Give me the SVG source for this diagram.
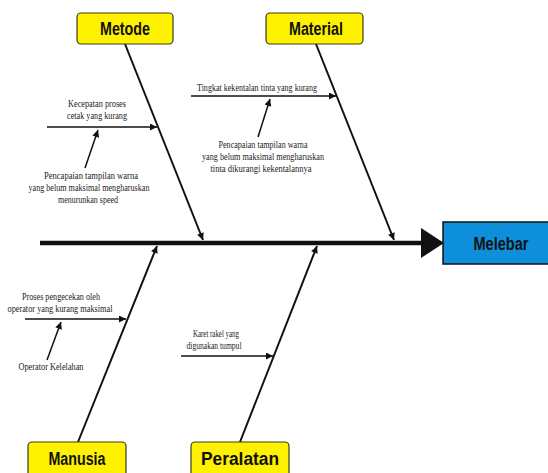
<svg xmlns="http://www.w3.org/2000/svg" width="548" height="473" viewBox="0 0 548 473">
<defs>
<style>
.cat{fill:#FFF200;stroke:#3a3a20;stroke-width:1.2}
.eff{fill:#0E8FDB;stroke:#111;stroke-width:1.5}
.lbl{font-family:"Liberation Sans",Arial,sans-serif;font-weight:bold;font-size:18px;fill:#111;text-anchor:middle}
.sm{font-family:"Liberation Serif","Times New Roman",serif;font-size:10.5px;fill:#222;text-anchor:middle}
.bone{stroke:#111;stroke-width:2;fill:none}
.sub{stroke:#111;stroke-width:1.5;fill:none}
</style>
<marker id="ah" viewBox="0 0 10 10" refX="10" refY="5" markerWidth="9" markerHeight="7" markerUnits="userSpaceOnUse" orient="auto">
<path d="M0,0 L10,5 L0,10 z" fill="#111"/>
</marker>
</defs>
<rect width="548" height="473" fill="#fff"/>
<g id="connectors">
<line x1="40" y1="243" x2="424" y2="243" stroke="#111" stroke-width="4.5"/>
<polygon points="421,228 444,243 421,258" fill="#111"/>
<line class="bone" x1="125" y1="44" x2="203" y2="240" marker-end="url(#ah)"/>
<line class="bone" x1="316" y1="44" x2="394" y2="240" marker-end="url(#ah)"/>
<line class="bone" x1="78" y1="442" x2="157" y2="246" marker-end="url(#ah)"/>
<line class="bone" x1="240" y1="442" x2="317" y2="246" marker-end="url(#ah)"/>
<line class="sub" x1="47" y1="127" x2="157" y2="127" marker-end="url(#ah)"/>
<line class="sub" x1="85" y1="168" x2="98" y2="130" marker-end="url(#ah)"/>
<line class="sub" x1="191" y1="96" x2="336" y2="96" marker-end="url(#ah)"/>
<line class="sub" x1="258" y1="137" x2="270" y2="99" marker-end="url(#ah)"/>
<line class="sub" x1="25" y1="319" x2="126" y2="319" marker-end="url(#ah)"/>
<line class="sub" x1="47" y1="360" x2="61" y2="322" marker-end="url(#ah)"/>
<line class="sub" x1="181" y1="356" x2="273" y2="356" marker-end="url(#ah)"/>
</g>
<g id="metode">
<rect class="cat" x="77" y="13" width="96" height="31" rx="4"/>
<text class="lbl" x="125" y="35" textLength="50" lengthAdjust="spacingAndGlyphs">Metode</text>
</g>
<g id="material">
<rect class="cat" x="266" y="13" width="97" height="31" rx="4"/>
<text class="lbl" x="316" y="35" textLength="54" lengthAdjust="spacingAndGlyphs">Material</text>
</g>
<g id="manusia">
<rect class="cat" x="28" y="442" width="98" height="36" rx="4"/>
<text class="lbl" x="77" y="465" textLength="57" lengthAdjust="spacingAndGlyphs">Manusia</text>
</g>
<g id="peralatan">
<rect class="cat" x="191" y="442" width="98" height="36" rx="4"/>
<text class="lbl" x="240" y="465" textLength="78" lengthAdjust="spacingAndGlyphs">Peralatan</text>
</g>
<g id="melebar">
<rect class="eff" x="443" y="222" width="110" height="42"/>
<text class="lbl" x="501" y="250" textLength="55" lengthAdjust="spacingAndGlyphs">Melebar</text>
</g>
<g id="cause-metode-1">
<text class="sm" x="97" y="107" textLength="58" lengthAdjust="spacingAndGlyphs">Kecepatan proses</text>
<text class="sm" x="97" y="119" textLength="60" lengthAdjust="spacingAndGlyphs">cetak yang kurang</text>
</g>
<g id="cause-metode-2">
<text class="sm" x="91" y="179" textLength="94" lengthAdjust="spacingAndGlyphs">Pencapaian tampilan warna</text>
<text class="sm" x="89" y="191" textLength="121" lengthAdjust="spacingAndGlyphs">yang belum maksimal mengharuskan</text>
<text class="sm" x="88" y="203" textLength="60" lengthAdjust="spacingAndGlyphs">menurunkan speed</text>
</g>
<g id="cause-material-1">
<text class="sm" x="257" y="91" textLength="120" lengthAdjust="spacingAndGlyphs">Tingkat kekentalan tinta yang kurang</text>
</g>
<g id="cause-material-2">
<text class="sm" x="263" y="148" textLength="89" lengthAdjust="spacingAndGlyphs">Pencapaian tampilan warna</text>
<text class="sm" x="263" y="160" textLength="122" lengthAdjust="spacingAndGlyphs">yang belum maksimal mengharuskan</text>
<text class="sm" x="261" y="172" textLength="101" lengthAdjust="spacingAndGlyphs">tinta dikurangi kekentalannya</text>
</g>
<g id="cause-manusia-1">
<text class="sm" x="61" y="300" textLength="78" lengthAdjust="spacingAndGlyphs">Proses pengecekan oleh</text>
<text class="sm" x="60" y="312" textLength="105" lengthAdjust="spacingAndGlyphs">operator yang kurang maksimal</text>
</g>
<g id="cause-manusia-2">
<text class="sm" x="51" y="370" textLength="65" lengthAdjust="spacingAndGlyphs">Operator Kelelahan</text>
</g>
<g id="cause-peralatan-1">
<text class="sm" x="216" y="337" textLength="46" lengthAdjust="spacingAndGlyphs">Karet rakel yang</text>
<text class="sm" x="214" y="349" textLength="55" lengthAdjust="spacingAndGlyphs">digunakan tumpul</text>
</g>
</svg>
